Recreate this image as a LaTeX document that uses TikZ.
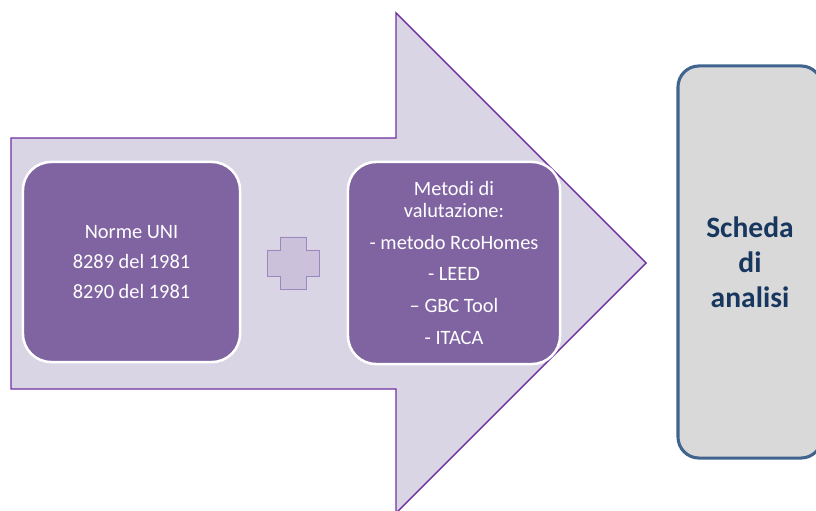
\documentclass[tikz,border=0pt]{standalone}
\usepackage{fontspec}
\setmainfont{Carlito}
\usepackage{tikz}
\usetikzlibrary{positioning}
\definecolor{arrowlilac}{RGB}{217,213,228}
\definecolor{arrowpurple}{RGB}{112,48,160}
\definecolor{boxpurple}{RGB}{128,100,162}
\definecolor{pluslilac}{RGB}{204,193,218}
\definecolor{plusedge}{RGB}{156,135,191}
\definecolor{schedagrey}{RGB}{217,217,217}
\definecolor{schedaedge}{RGB}{65,100,143}
\definecolor{schedanavy}{RGB}{23,55,94}

\begin{document}
\begin{tikzpicture}[x=0.025cm, y=-0.025cm,
    inbox/.style={rectangle, draw=white, line width=1.8pt, fill=boxpurple,
        rounded corners=20pt, text=white, align=center,
        font=\fontsize{14.5}{21.3}\selectfont},
    tightbox/.style={inbox, font=\fontsize{14.5}{15.5}\selectfont},
    outbox/.style={rectangle, draw=schedaedge, line width=2.2pt, fill=schedagrey,
        rounded corners=15pt, text=schedanavy, align=center,
        font=\fontsize{21}{25}\selectfont\bfseries}
]
    \useasboundingbox (0,0) rectangle (816,511);

    % big arrow behind the two inputs
    \draw[arrowpurple, line width=1pt, fill=arrowlilac, line join=miter]
        (11,138) -- (396,138) -- (396,13) -- (646,263) -- (396,513)
        -- (396,389) -- (11,389) -- cycle;

    \node[inbox, minimum width=5.425cm, minimum height=5cm] (norme) at (131.5,262)
        {Norme UNI\\8289 del 1981\\8290 del 1981};
    \node[tightbox, minimum width=5.3cm, minimum height=5.05cm] (metodi) at (454,263)
        {Metodi di\\valutazione:\\[7pt]
         - metodo RcoHomes\\[7pt]- LEED\\[7pt]– GBC Tool\\[7pt]- ITACA};

    % plus sign between the boxes
    \draw[plusedge, line width=0.6pt, fill=pluslilac]
        (280,237) -- (306,237) -- (306,250) -- (319,250) -- (319,276)
        -- (306,276) -- (306,289) -- (280,289) -- (280,276) -- (267,276)
        -- (267,250) -- (280,250) -- cycle;

    \node[outbox, minimum width=3.6cm, minimum height=9.8cm] (scheda) at (750,262)
        {Scheda\\di\\analisi};
\end{tikzpicture}
\end{document}
